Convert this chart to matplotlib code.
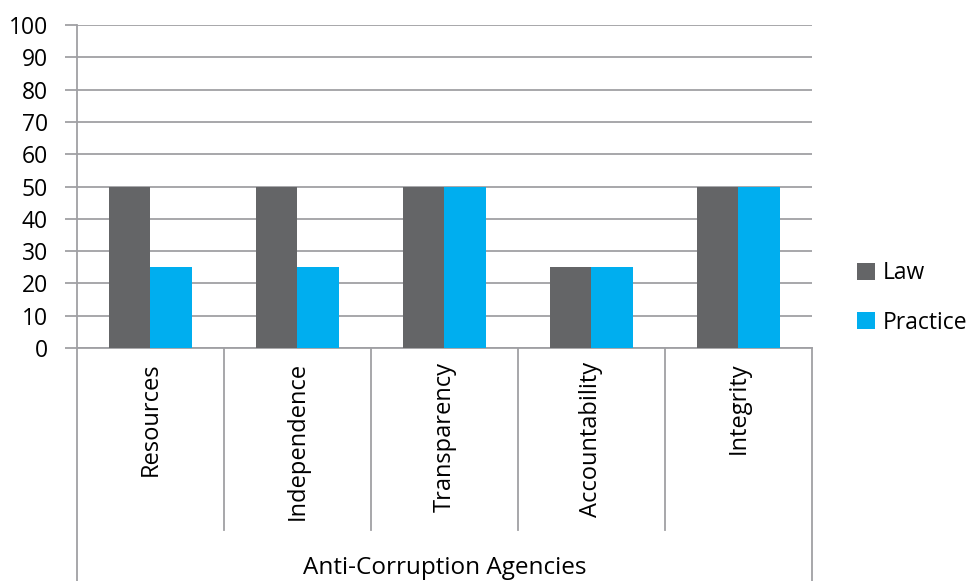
import numpy as np
import matplotlib.pyplot as plt
from matplotlib.transforms import blended_transform_factory

plt.rcParams['font.family'] = ['Open Sans', 'DejaVu Sans']

# data
categories = ["Resources", "Independence", "Transparency", "Accountability", "Integrity"]
law = [50, 50, 50, 25, 50]
practice = [25, 25, 50, 25, 50]
group_label = "Anti-Corruption Agencies"

law_color = "#646567"
practice_color = "#00AEEF"
grid_color = "#A0A0A4"

fig = plt.figure(figsize=(9.7, 5.81), dpi=100)
ax = fig.add_axes([77/970, 233/581, 735/970, 323/581])

x = np.arange(len(categories))
w = 0.283
ax.bar(x - w/2, law, width=w, color=law_color, label="Law", zorder=3)
ax.bar(x + w/2, practice, width=w, color=practice_color, label="Practice", zorder=3)

ax.set_xlim(-0.5, len(categories) - 0.5)
ax.set_ylim(0, 100)
ax.set_yticks(np.arange(0, 101, 10))
ax.yaxis.grid(True, color=grid_color, linewidth=1.3, zorder=0)
ax.tick_params(axis='y', length=9, width=1.3, color=grid_color, labelsize=16.5, pad=12)

for s in ['top', 'right']:
    ax.spines[s].set_visible(False)
for s in ['left', 'bottom']:
    ax.spines[s].set_color(grid_color)
    ax.spines[s].set_linewidth(1.3)

# category labels, rotated
ax.set_xticks(x)
ax.set_xticklabels(categories, rotation=90, fontsize=17)
ax.tick_params(axis='x', length=0, pad=10)

# separators between categories and outer group lines
trans = blended_transform_factory(ax.transData, fig.transFigure)
for b in np.arange(0.5, len(categories) - 1, 1):
    ax.plot([b, b], [233/581, 51/581], transform=trans, color=grid_color,
            linewidth=1.3, clip_on=False)
for b in [-0.5, len(categories) - 0.5]:
    ax.plot([b, b], [233/581, 0], transform=trans, color=grid_color,
            linewidth=1.3, clip_on=False)

fig.text((77 + 812) / 2 / 970, 13/581, group_label, ha='center', va='center', fontsize=17.5)

fig.legend(loc='center left', bbox_to_anchor=(0.884, 0.487), frameon=False,
           fontsize=16.5, handlelength=0.75, handleheight=0.75, handletextpad=0.35,
           labelspacing=1.1, borderpad=0, borderaxespad=0)

fig.savefig("out.png", dpi=100)
